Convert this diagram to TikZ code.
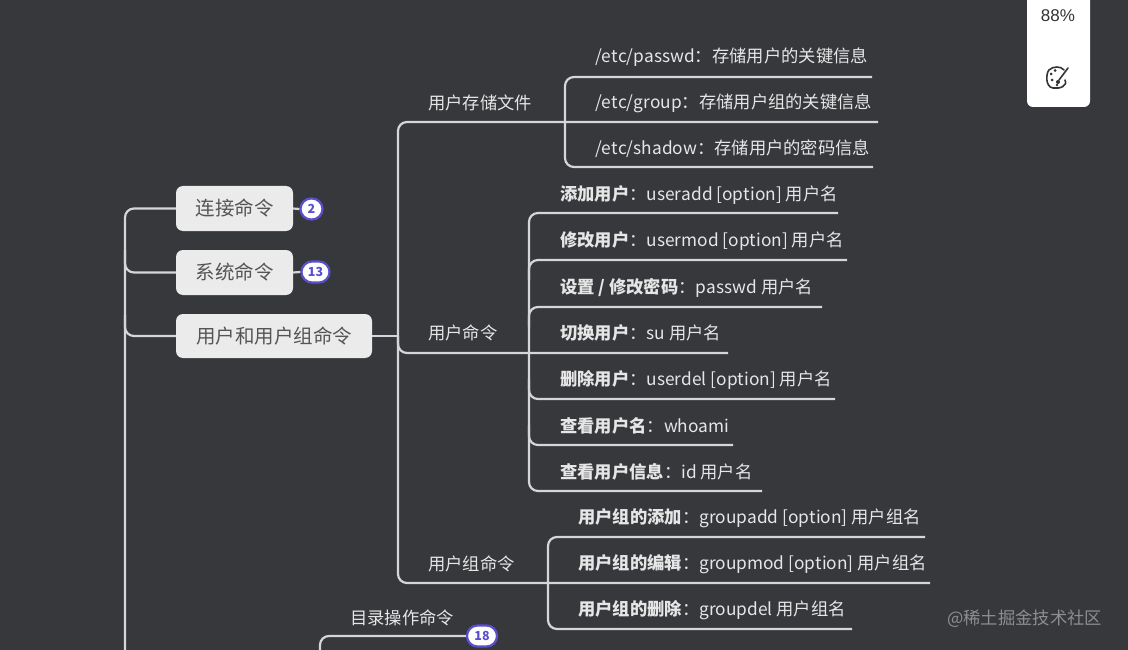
\documentclass[tikz,border=0pt]{standalone}
\usepackage{fontspec}
\setmainfont{Noto Sans CJK SC}[Kerning=Off]
\newfontfamily\latinsans{Liberation Sans}
\definecolor{bg}{HTML}{37383C}
\definecolor{ln}{HTML}{D6D6D6}
\definecolor{lt}{HTML}{E6E6E6}
\definecolor{boxfill}{HTML}{EBEBEB}
\definecolor{boxtext}{HTML}{555555}
\definecolor{purp}{HTML}{5B4FCF}
\definecolor{wm}{HTML}{8E8E8E}
\definecolor{icon}{HTML}{333333}
\begin{document}
\begin{tikzpicture}[x=1pt,y=-1pt,
  conn/.style={draw=ln,line width=2.2pt,rounded corners=9pt},
  leaf/.style={anchor=west,inner sep=0pt,text=lt,font=\fontsize{17.3}{20}\selectfont},
  topic/.style={draw=none,fill=boxfill,rounded corners=7pt,text=boxtext,font=\fontsize{19.5}{22}\selectfont,inner sep=0pt},
  badge/.style={draw=purp,fill=white,line width=2.2pt,text=purp,font=\fontsize{12.5}{14}\selectfont\bfseries,inner sep=0pt,minimum height=21pt,rounded corners=10.5pt}
]
\useasboundingbox (0,0) rectangle (1128,650);
\fill[bg] (0,0) rectangle (1128,650);

% ---- topic boxes
\node[topic,minimum width=117pt,minimum height=45pt] (lj) at (234.5,208.5) {连接命令};
\node[topic,minimum width=117pt,minimum height=45pt] (xt) at (234.5,272.5) {系统命令};
\node[topic,minimum width=196pt,minimum height=44pt] (yh) at (274,336) {用户和用户组命令};

% ---- badges
\node[badge,minimum width=22pt] (b2) at (311.5,209) {2};
\node[badge,minimum width=28pt] (b13) at (315.5,272) {13};
\node[badge,minimum width=30pt] (b18) at (482,636) {18};

% ---- trunk
\coordinate (trunkbot) at (125,665);
\draw[conn] (lj.west) -| (trunkbot);
\draw[conn] (125,250) |- (xt.west);
\draw[conn] (125,315) |- (yh.west);
\draw[conn] (lj.east) -- (b2.west);
\draw[conn] (xt.east) -- (b13.west);

% ---- sub topics
\node[leaf] (ccwj) at (428,103) {用户存储文件};
\node[leaf] (yhml) at (428,333) {用户命令};
\node[leaf] (zml) at (428,564) {用户组命令};
\node[leaf] (mlcz) at (350,618) {目录操作命令};

% ---- storage leaves
\node[leaf] (f1) at (595,57) {/etc/passwd：存储用户的关键信息};
\node[leaf] (f2) at (595,103) {/etc/group：存储用户组的关键信息};
\node[leaf] (f3) at (595,149) {/etc/shadow：存储用户的密码信息};

% ---- user command leaves
\node[leaf] (u1) at (560,195) {\textbf{添加用户}：useradd [option] 用户名};
\node[leaf] (u2) at (560,241) {\textbf{修改用户}：usermod [option] 用户名};
\node[leaf] (u3) at (560,288) {\textbf{设置 / 修改密码}：passwd 用户名};
\node[leaf] (u4) at (560,333) {\textbf{切换用户}：su 用户名};
\node[leaf] (u5) at (560,380) {\textbf{删除用户}：userdel [option] 用户名};
\node[leaf] (u6) at (560,426) {\textbf{查看用户名}：whoami};
\node[leaf] (u7) at (560,472) {\textbf{查看用户信息}：id 用户名};

% ---- group leaves
\node[leaf] (g1) at (578,518) {\textbf{用户组的添加}：groupadd [option] 用户组名};
\node[leaf] (g2) at (578,564) {\textbf{用户组的编辑}：groupmod [option] 用户组名};
\node[leaf] (g3) at (578,610) {\textbf{用户组的删除}：groupdel 用户组名};

% ---- line end coordinates
\coordinate (e1) at (872,77);
\coordinate (e2) at (878,122);
\coordinate (e3) at (873,167);
\coordinate (eu1) at (838,213);
\coordinate (eu2) at (847,260);
\coordinate (eu3) at (822,307);
\coordinate (eu4) at (728,353);
\coordinate (eu5) at (835,399);
\coordinate (eu6) at (733,445);
\coordinate (eu7) at (762,491);
\coordinate (eg1) at (925,537);
\coordinate (eg2) at (930,583);
\coordinate (eg3) at (852,629);
\coordinate (mlbot) at (320,665);

% ---- user/group hub
\draw[conn] (yh.east) -- (398,336);
\draw[conn] (e2) -- (398,122) -- (398,583) -- (eg2);
\draw[conn] (398,336) |- (eu4);

% storage fan
\draw[conn] (e1) -- (565,77) -- (565,167) -- (e3);

% user commands fan
\draw[conn] (eu1) -- (529,213) -- (529,491) -- (eu7);
\draw[conn] (529,280) |- (eu2);
\draw[conn] (529,327) |- (eu3);
\draw[conn] (529,379) |- (eu5);
\draw[conn] (529,425) |- (eu6);

% group fan
\draw[conn] (eg1) -- (548,537) -- (548,629) -- (eg3);

% directory branch
\draw[conn] (mlbot) |- (b18.west);

% ---- top-right panel
\fill[white,rounded corners=6pt] (1027,-10) rectangle (1090,107);
\node[text=icon,font=\latinsans\fontsize{17}{19}\selectfont] (pct) at (1058,16) {88\%};
\node[draw=none,minimum size=24pt,inner sep=0pt] (pal) at (1058,77) {};
\draw[icon,line width=1.6pt,line cap=round,line join=round]
  (1065,80) .. controls (1068,86) and (1060,89) .. (1053,88)
  .. controls (1045,87) and (1046,73) .. (1049,70)
  .. controls (1053,66) and (1061,66) .. (1064,70);
\fill[icon] (1051,74) circle (1.5pt) (1055,70.5) circle (1.5pt) (1052,80) circle (1.5pt) (1057,85) circle (1.3pt);
\draw[icon,line width=1.6pt,line cap=round] (1059,80) -- (1068,68);
\fill[icon] (1058,82) circle (2pt);

% ---- watermark
\node[anchor=west,inner sep=0pt,text=wm,font=\fontsize{17.3}{20}\selectfont] (wmk) at (947,619) {@稀土掘金技术社区};
\end{tikzpicture}
\end{document}
